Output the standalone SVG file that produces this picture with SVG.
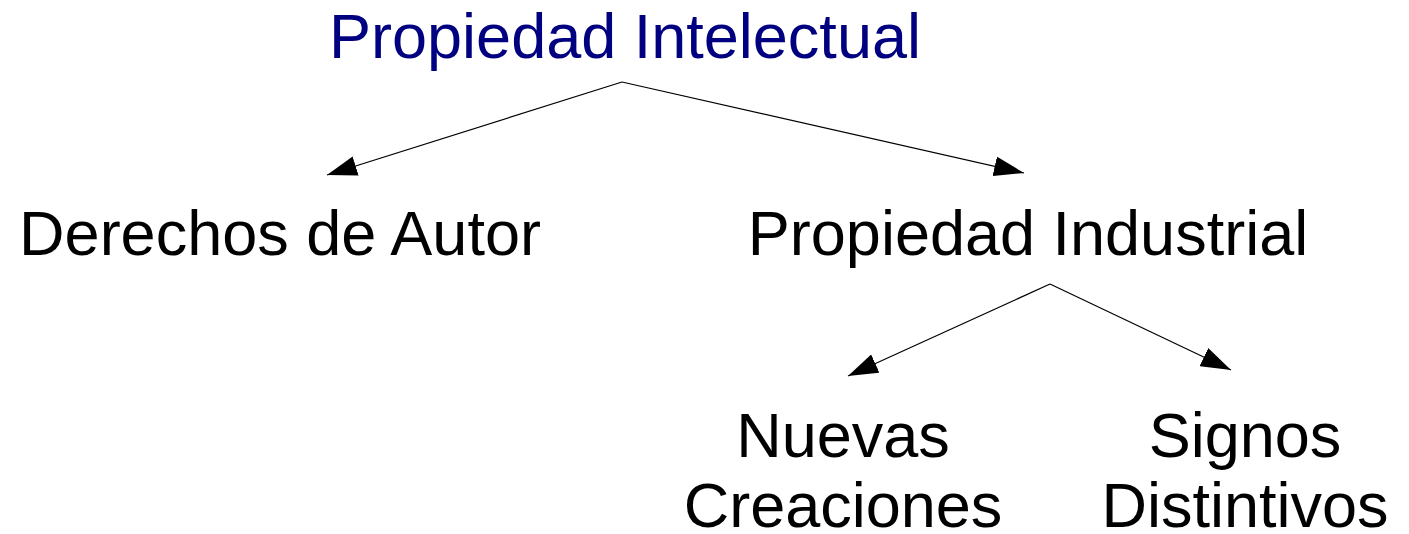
<svg xmlns="http://www.w3.org/2000/svg" width="1409" height="534" viewBox="0 0 1409 534">
<style>
text{font-family:"Liberation Sans",Arial,sans-serif;font-size:63px;fill:#000;text-anchor:middle}
.title{fill:#000080}
.conn{stroke:#000;stroke-width:1.2;fill:none;marker-end:url(#ah)}
</style>
<defs>
<marker id="ah" viewBox="0 0 30 20" refX="30" refY="10" markerWidth="30" markerHeight="20" markerUnits="userSpaceOnUse" orient="auto">
<path d="M0,0 L30,10 L0,20 Z" fill="#000"/>
</marker>
</defs>
<rect width="1409" height="534" fill="#fff"/>
<g id="connectors">
<line class="conn" x1="622" y1="82" x2="327" y2="175"/>
<line class="conn" x1="622" y1="82" x2="1024" y2="173"/>
<line class="conn" x1="1050" y1="284" x2="848" y2="376"/>
<line class="conn" x1="1050" y1="284" x2="1231" y2="370"/>
</g>
<g id="n-propiedad-intelectual"><text class="title" x="625" y="58">Propiedad Intelectual</text></g>
<g id="n-derechos-autor"><text x="280" y="255">Derechos de Autor</text></g>
<g id="n-propiedad-industrial"><text x="1028" y="255">Propiedad Industrial</text></g>
<g id="n-nuevas-creaciones"><text x="843" y="457">Nuevas</text><text x="843" y="527">Creaciones</text></g>
<g id="n-signos-distintivos"><text x="1245" y="457">Signos</text><text x="1245" y="527">Distintivos</text></g>
</svg>
